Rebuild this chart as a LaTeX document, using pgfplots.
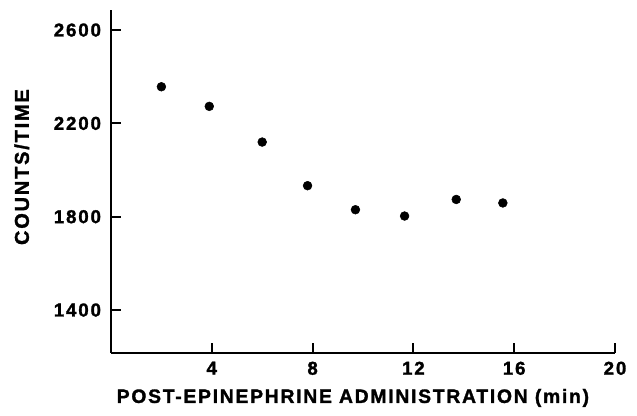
\documentclass[border=0pt]{standalone}
\usepackage{fontspec}
\setmainfont{Liberation Sans}
\newfontfamily\lblfont{Liberation Sans Bold}[LetterSpace=9, FakeBold=1.5]
\newfontfamily\tickfont{Liberation Sans Bold}[LetterSpace=10, FakeBold=1.5]
\usepackage{pgfplots}
\pgfplotsset{compat=1.18}
\begin{document}
\begin{tikzpicture}
\useasboundingbox (-83.25pt,-47.25pt) rectangle (394.5pt,264.75pt);
\begin{axis}[
  at={(0,0)}, anchor=south west,
  scale only axis, width=378pt, height=257.25pt,
  xmin=0, xmax=20, ymin=1216, ymax=2686,
  axis x line*=bottom, axis y line*=left,
  axis line style={-, line width=1.6pt, black},
  xtick={4,8,12,16,20}, ytick={1400,1800,2200,2600},
  tick align=inside, major tick length=7.5pt,
  tick style={line width=1.4pt, black},
  /pgf/number format/assume math mode=true,
  /pgf/number format/1000 sep={},
  ticklabel style={font=\tickfont\fontsize{14}{15}\selectfont},
  yticklabel style={anchor=east, xshift=-4pt},
  xticklabel style={anchor=north, yshift=-3pt},
  xlabel={POST-EPINEPHRINE ADMINISTRATION (min)},
  ylabel={COUNTS/TIME},
  xlabel style={font=\lblfont\fontsize{14.5}{15}\selectfont, at={(axis description cs:0.48,-0.131)}, anchor=center},
  ylabel style={font=\lblfont\fontsize{15}{16}\selectfont, at={(axis description cs:-0.177,0.542)}, anchor=center},
]
\addplot[only marks, mark=*, mark size=3.3pt, black] coordinates {
  (2,2357) (3.9,2273) (6,2120) (7.8,1933) (9.7,1830) (11.65,1803) (13.7,1874) (15.55,1859)
};
\end{axis}
\end{tikzpicture}
\end{document}
